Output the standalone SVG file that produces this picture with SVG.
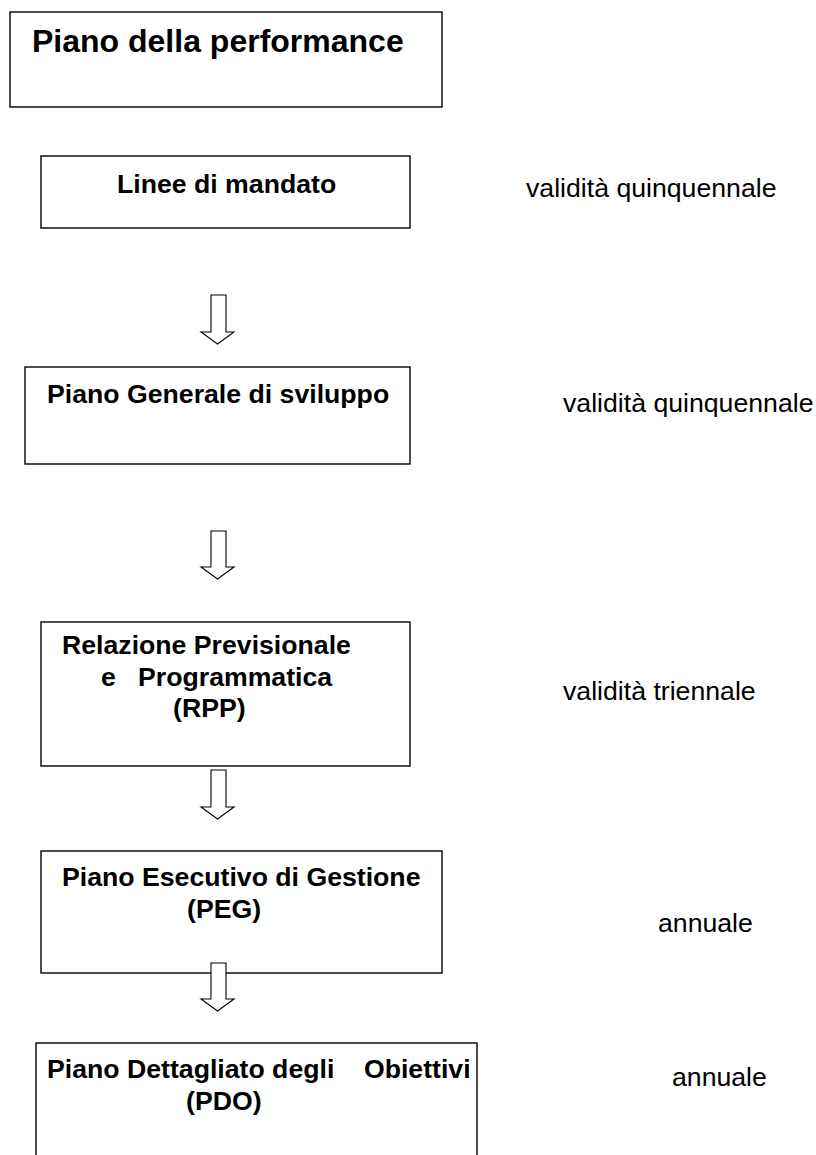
<svg xmlns="http://www.w3.org/2000/svg" width="816" height="1155" viewBox="0 0 816 1155">
<style>
.box{fill:#fff;stroke:#000;stroke-width:1.4}
.arr{fill:#fff;stroke:#000;stroke-width:1.1;stroke-linejoin:miter}
.t{font-family:"Liberation Sans",Arial,sans-serif;font-weight:bold;font-size:26.67px;fill:#000}
.big{font-size:32px}
.lab{font-family:"Liberation Sans",Arial,sans-serif;font-size:26.67px;fill:#000}
</style>
<rect width="816" height="1155" fill="#fff"/>
<g id="node-piano-performance">
<rect class="box" x="10" y="12" width="432" height="95"/>
<text class="t big" x="32" y="52">Piano della performance</text>
</g>
<g id="node-linee-mandato">
<rect class="box" x="41" y="156" width="369" height="72"/>
<text class="t" x="117" y="193">Linee di mandato</text>
</g>
<g id="node-piano-generale">
<rect class="box" x="25" y="367" width="385" height="97"/>
<text class="t" x="47" y="403">Piano Generale di sviluppo</text>
</g>
<g id="node-rpp">
<rect class="box" x="41" y="622" width="369" height="144"/>
<text class="t" x="62" y="654">Relazione Previsionale</text>
<text class="t" x="101" y="686" xml:space="preserve">e   Programmatica</text>
<text class="t" x="173" y="717">(RPP)</text>
</g>
<g id="node-peg">
<rect class="box" x="41" y="851" width="401" height="122"/>
<text class="t" x="62" y="886">Piano Esecutivo di Gestione</text>
<text class="t" x="187" y="918">(PEG)</text>
</g>
<g id="node-pdo">
<rect class="box" x="36" y="1043" width="441" height="130"/>
<text class="t" x="47" y="1078" xml:space="preserve">Piano Dettagliato degli    Obiettivi</text>
<text class="t" x="186" y="1110">(PDO)</text>
</g>
<g id="labels">
<text class="lab" x="526" y="197">validità quinquennale</text>
<text class="lab" x="563" y="412">validità quinquennale</text>
<text class="lab" x="563" y="700">validità triennale</text>
<text class="lab" x="658" y="932">annuale</text>
<text class="lab" x="672" y="1086">annuale</text>
</g>
<g id="connectors">
<path class="arr" d="M211 295 H226 V332 H234 L217.5 344 L201 332 H211 Z"/>
<path class="arr" d="M211 531 H226 V567 H234 L217.5 579 L201 567 H211 Z"/>
<path class="arr" d="M211 770 H226 V807 H234 L217.5 819 L201 807 H211 Z"/>
<path class="arr" d="M211 963 H226 V999 H234 L217.5 1011 L201 999 H211 Z"/>
</g>
</svg>
